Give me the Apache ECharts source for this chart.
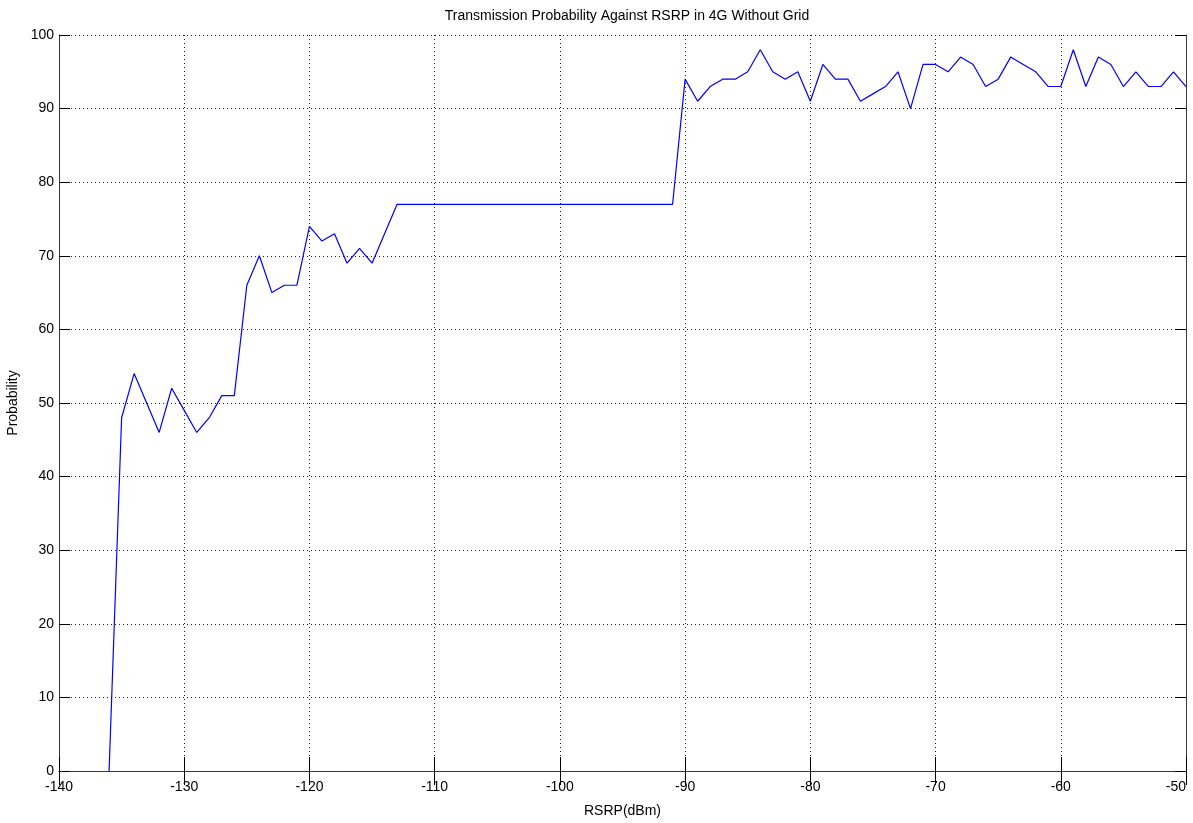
<!DOCTYPE html>
<html>
<head>
<meta charset="utf-8">
<title>Transmission Probability Against RSRP in 4G Without Grid</title>
<script src="https://cdn.jsdelivr.net/npm/echarts@6/dist/echarts.min.js"></script>
<style>
  html, body { margin: 0; padding: 0; background: #fff; }
  #chart { width: 1193px; height: 823px; }
</style>
</head>
<body>
<div id="chart"></div>
<script>
// RSRP sample points (dBm) and the measured transmission probability (%)
const rsrp = [
  -136, -135, -134, -133, -132, -131, -130, -129, -128, -127, -126, -125,
  -124, -123, -122, -121, -120, -119, -118, -117, -116, -115, -114, -113,
  -91, -90, -89, -88, -87, -86, -85, -84, -83, -82, -81, -80,
  -79, -78, -77, -76, -75, -74, -73, -72, -71, -70, -69, -68,
  -67, -66, -65, -64, -63, -62, -61, -60, -59, -58, -57, -56,
  -55, -54, -53, -52, -51, -50
];
const probability = [
  0, 48, 54, 50, 46, 52, 49, 46, 48, 51, 51, 66,
  70, 65, 66, 66, 74, 72, 73, 69, 71, 69, 73, 77,
  77, 94, 91, 93, 94, 94, 95, 98, 95, 94, 95, 91,
  96, 94, 94, 91, 92, 93, 95, 90, 96, 96, 95, 97,
  96, 93, 94, 97, 96, 95, 93, 93, 98, 93, 97, 96,
  93, 95, 93, 93, 95, 93
];
const xTicks = { min: -140, max: -50, interval: 10 };
const yTicks = { min: 0, max: 100, interval: 10 };

const FONT = '"Liberation Sans Narrow", "Liberation Sans", Arial, sans-serif';
const frame = { show: true, lineStyle: { color: '#3a3a3a', width: 1 } };
const dotted = { show: true, lineStyle: { color: '#222', width: 1, type: [1, 3] } };
const label = { color: '#000', fontFamily: FONT, fontSize: 14 };

const chart = echarts.init(document.getElementById('chart'), null, { renderer: 'canvas' });

chart.setOption({
  animation: false,
  backgroundColor: '#fff',
  title: {
    text: 'Transmission Probability Against RSRP in 4G Without Grid',
    left: 622, top: 4, textAlign: 'center',
    textStyle: { color: '#000', fontFamily: FONT, fontSize: 14, fontWeight: 'normal' }
  },
  grid: { left: 59, right: 7, top: 35, bottom: 52, containLabel: false, outerBoundsMode: 'none' },
  xAxis: [
    {
      type: 'value', position: 'bottom', ...xTicks,
      name: 'RSRP(dBm)', nameLocation: 'middle', nameGap: 33,
      nameTextStyle: label,
      axisLine: frame,
      axisTick: { show: true, inside: true, length: 14, lineStyle: { color: '#000' } },
      axisLabel: { ...label, margin: 9, alignMaxLabel: 'right' },
      splitLine: dotted
    },
    {
      type: 'value', position: 'top', ...xTicks,
      axisLine: frame,
      axisTick: { show: true, inside: true, length: 14, lineStyle: { color: '#000' } },
      axisLabel: { show: false },
      splitLine: { show: false }
    }
  ],
  yAxis: [
    {
      type: 'value', position: 'left', ...yTicks,
      name: 'Probability', nameLocation: 'middle', nameGap: 38, nameRotate: 90,
      nameTextStyle: label,
      axisLine: frame,
      axisTick: { show: true, inside: true, length: 11, lineStyle: { color: '#000' } },
      axisLabel: { ...label, margin: 5 },
      splitLine: dotted
    },
    {
      type: 'value', position: 'right', ...yTicks,
      axisLine: frame,
      axisTick: { show: true, inside: true, length: 11, lineStyle: { color: '#000' } },
      axisLabel: { show: false },
      splitLine: { show: false }
    }
  ],
  series: [
    {
      type: 'line',
      xAxisIndex: 0, yAxisIndex: 0,
      data: rsrp.map((x, i) => [x, probability[i]]),
      showSymbol: false,
      lineStyle: { color: '#0000ff', width: 1.2 },
      itemStyle: { color: '#0000ff' }
    }
  ]
});
</script>
</body>
</html>
